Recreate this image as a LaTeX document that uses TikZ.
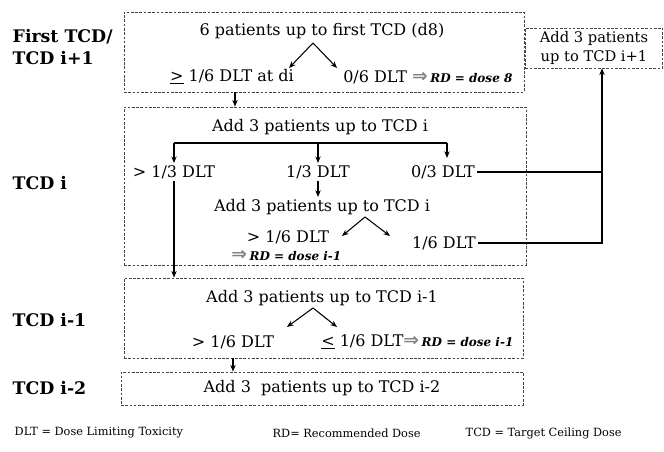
\documentclass[tikz,border=0pt]{standalone}
\usepackage{fontspec}
\setmainfont{DejaVu Serif}
\newfontfamily\symbolfont{DejaVu Sans}
\usetikzlibrary{arrows.meta,fit}
\definecolor{boxstroke}{RGB}{70,70,70}
\definecolor{rdarrow}{RGB}{130,130,130}
\newcommand{\rdmark}[1]{{\symbolfont\bfseries\fontsize{14}{14}\selectfont\color{rdarrow}⇒}\,{\fontsize{9}{11}\selectfont\bfseries\itshape #1}}

\begin{document}
\begin{tikzpicture}[
  x=0.75pt, y=-0.75pt,
  font=\fontsize{12}{14}\selectfont,
  >={Stealth[length=5pt,width=4pt]},
  stagebox/.style={
    draw=boxstroke,
    dash pattern=on 2pt off 1.2pt,
    line width=0.6pt,
    inner sep=0pt
  },
  steptext/.style={inner sep=1.5pt},
  dosetag/.style={font=\fontsize{13}{16}\selectfont\bfseries, align=left, anchor=west},
  flow/.style={->, line width=0.8pt},
  link/.style={line width=0.8pt},
  legend/.style={font=\fontsize{8.5}{10}\selectfont, anchor=west}
]
\useasboundingbox (0,0) rectangle (664,452);

% stage boxes
\node[stagebox, fit={(124,12) (524,92)}] (first) {};
\node[stagebox, fit={(124,107) (526,265)}] (tcdi) {};
\node[stagebox, fit={(124,278) (523,358)}] (tcdim) {};
\node[stagebox, fit={(121,372) (523,405)}] (tcdimm) {};
\node[stagebox, minimum width=103pt, minimum height=30pt, align=center,
      font=\fontsize{11}{14}\selectfont] (side) at (594,48) {Add 3 patients\\up to TCD i+1};

% dose level labels
\node[dosetag] (lfirst) at (8,47) {First TCD/\\TCD i+1};
\node[dosetag] (li) at (8,183) {TCD i};
\node[dosetag] (lim) at (8,320) {TCD i-1};
\node[dosetag] (limm) at (8,388) {TCD i-2};

% first TCD
\node[steptext] (six) at (322,31) {6 patients up to first TCD (d8)};
\node[steptext] (geqsix) at (232,77) {\underline{>} 1/6 DLT at di};
\node[steptext, anchor=west] (zerosix) at (341,77) {0/6 DLT \rdmark{RD = dose 8}};
\coordinate (sa) at (313,43);
\coordinate (sal) at (289,68);
\coordinate (sar) at (337,68);
\draw[flow] (sa) -- (sal);
\draw[flow] (sa) -- (sar);

% TCD i
\node[steptext] (addi) at (320,127) {Add 3 patients up to TCD i};
\node[steptext] (gtthird) at (174,172) {> 1/3 DLT};
\node[steptext] (onethird) at (318,172) {1/3 DLT};
\node[steptext] (zerothird) at (443,172) {0/3 DLT};
\coordinate (bar) at (318,143);
\draw[link] (bar -| gtthird) -- (bar -| 447,0);
\draw[flow] (bar -| gtthird) -- (gtthird);
\draw[flow] (bar -| onethird) -- (onethird);
\draw[flow] (bar -| 447,0) -- (447,158);
\node[steptext] (addii) at (322,207) {Add 3 patients up to TCD i};
\draw[flow] (onethird.south) -- (onethird.south |- addii.north);
\coordinate (sb) at (365,217);
\coordinate (sbl) at (342,236);
\coordinate (sbr) at (390,236);
\draw[flow] (sb) -- (sbl);
\draw[flow] (sb) -- (sbr);
\node[steptext] (gtsixth) at (288,237) {> 1/6 DLT};
\node[steptext, anchor=west] (rdi) at (229,256) {\rdmark{RD = dose i-1}};
\node[steptext] (onesixth) at (444,243) {1/6 DLT};

% escalate to TCD i+1
\coordinate (rj) at (602,0);
\draw[link] (zerothird.east) -- (zerothird.east -| rj);
\draw[flow] (onesixth.east) -- (onesixth.east -| rj) -- (rj |- side.south);
\draw[flow] (first.south -| 235,0) -- (tcdi.north -| 235,0);
\draw[flow] (gtthird) -- (gtthird |- tcdim.north);

% TCD i-1
\node[steptext] (addim) at (322,298) {Add 3 patients up to TCD i-1};
\coordinate (sc) at (313,308);
\coordinate (scl) at (287,327);
\coordinate (scr) at (337,327);
\draw[flow] (sc) -- (scl);
\draw[flow] (sc) -- (scr);
\node[steptext] (gtsixthb) at (233,342) {> 1/6 DLT};
\node[steptext, anchor=west] (leqsixth) at (319,342) {\underline{<} 1/6 DLT\rdmark{RD = dose i-1}};
\draw[flow] (tcdim.south -| gtsixthb) -- (tcdimm.north -| gtsixthb);

% TCD i-2
\node[steptext] (addimm) at (322,388) {Add 3\ \ patients up to TCD i-2};

% legend
\node[legend] (kdlt) at (10,433) {DLT = Dose Limiting Toxicity};
\node[legend] (krd) at (268,433) {RD= Recommended Dose};
\node[legend] (ktcd) at (461,433) {TCD = Target Ceiling Dose};

\end{tikzpicture}
\end{document}
